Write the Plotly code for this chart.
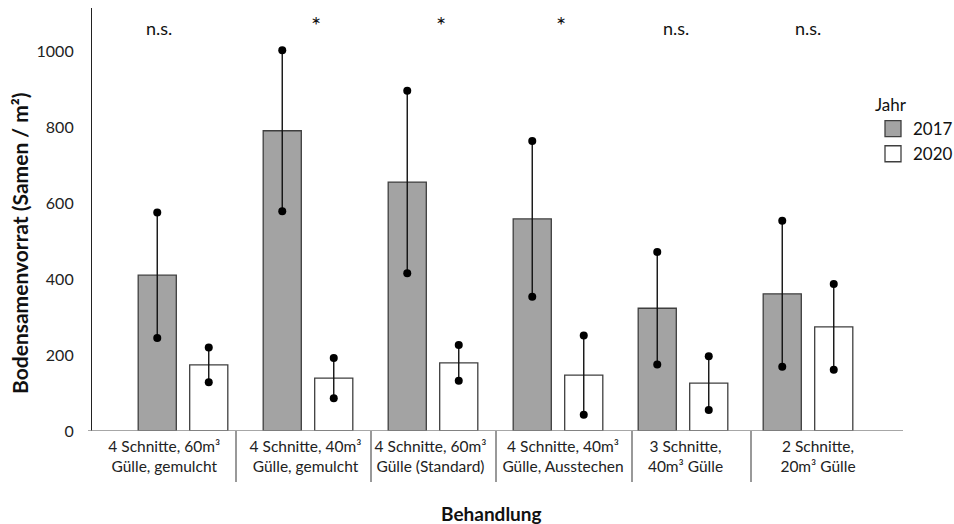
import numpy as np
import plotly.graph_objects as go

# ---- data ----
categories = [
    "4 Schnitte, 60m³<br>Gülle, gemulcht",
    "4 Schnitte, 40m³<br>Gülle, gemulcht",
    "4 Schnitte, 60m³<br>Gülle (Standard)",
    "4 Schnitte, 40m³<br>Gülle, Ausstechen",
    "3 Schnitte,<br>40m³ Gülle",
    "2 Schnitte,<br>20m³ Gülle",
]
years = ["2017", "2020"]
mean_2017 = [410, 790, 655, 558, 323, 361]
se_2017 = [165, 212, 240, 205, 148, 192]
mean_2020 = [174, 139, 179, 147, 126, 274]
se_2020 = [46, 53, 47, 104, 71, 113]
significance = ["n.s.", "*", "*", "*", "n.s.", "n.s."]
y_ticks = [0, 200, 400, 600, 800, 1000]

# ---- layout / style ----
FONT = "Lato, Calibri, Carlito, sans-serif"
GRAY = "#a3a3a3"
EDGE = "#3f3f3f"
offset = 0.206
bar_w = 0.305
label_shift = [-0.15, -0.02, -0.02, 0.04, 0.02, 0.08]
sig_shift = [-0.19, 0.06, 0.06, 0.02, -0.06, 0.0]
divider_x = [0.424, 1.504, 2.504, 3.592, 4.544]

# figure is a little wider than the 954px window so the legend's trailing
# padding may fall outside the visible page (body overflow hidden)
W, H = 970, 524
L, R, T, B = 92, 67, 8, 93
PW, PH = W - L - R, H - T - B
BOT = H - B  # pixel row of the x axis


def px_x(px):
    return (px - L) / PW


def px_y(py):
    return (BOT - py) / PH


idx = np.arange(len(categories))
x17 = idx - offset
x20 = idx + offset
m17, s17 = np.array(mean_2017), np.array(se_2017)
m20, s20 = np.array(mean_2020), np.array(se_2020)

fig = go.Figure()

for xs, m, s, fill, name in [(x17, m17, s17, GRAY, years[0]), (x20, m20, s20, "white", years[1])]:
    fig.add_trace(go.Bar(
        x=xs, y=m, width=bar_w, name=name, showlegend=False,
        marker=dict(color=fill, line=dict(color=EDGE, width=1.3)),
        error_y=dict(type="data", array=s, visible=True, thickness=1.4, width=0, color="#111111"),
        hoverinfo="y",
    ))

# end-point dots of the error lines
for xs, m, s in [(x17, m17, s17), (x20, m20, s20)]:
    fig.add_trace(go.Scatter(
        x=np.concatenate([xs, xs]), y=np.concatenate([m + s, m - s]),
        mode="markers", marker=dict(color="black", size=8), showlegend=False, hoverinfo="y",
    ))

# legend entries
for fill, name in [(GRAY, years[0]), ("white", years[1])]:
    fig.add_trace(go.Scatter(
        x=[None], y=[None], mode="markers", name=name,
        marker=dict(symbol="square", size=16, color=fill, line=dict(color=EDGE, width=1.3)),
    ))

annotations = []
for i, txt in enumerate(significance):
    star = txt == "*"
    annotations.append(dict(x=i + sig_shift[i], y=px_y(24 if star else 28), xref="x", yref="paper",
                            xanchor="center", yanchor="middle", text=txt, showarrow=False,
                            font=dict(family=FONT, size=24 if star else 18, color="#111")))
annotations.append(dict(x=px_x(19), y=px_y(243), xref="paper", yref="paper",
                        xanchor="center", yanchor="middle",
                        text="<b>Bodensamenvorrat (Samen / m²)</b>", textangle=-90, showarrow=False,
                        font=dict(family=FONT, size=21, color="#111")))
annotations.append(dict(x=px_x(491), y=px_y(513), xref="paper", yref="paper",
                        xanchor="center", yanchor="middle",
                        text="<b>Behandlung</b>", showarrow=False,
                        font=dict(family=FONT, size=19, color="#111")))

shapes = [dict(type="line", xref="x", yref="paper", x0=d, x1=d, y0=0, y1=px_y(482),
               line=dict(color="#555555", width=1.2)) for d in divider_x]
shapes.append(dict(type="line", xref="paper", yref="y", x0=px_x(88), x1=1, y0=0, y1=0,
                   line=dict(color="#8a8a8a", width=1.5)))

fig.update_layout(
    width=W, height=H,
    margin=dict(l=L, r=R, t=T, b=B, pad=0),
    paper_bgcolor="white", plot_bgcolor="white",
    font=dict(family=FONT, size=16, color="#111"),
    xaxis=dict(range=[-0.728, 5.76], tickvals=idx + np.array(label_shift), ticktext=categories,
               showgrid=False, zeroline=False, showline=False, ticks="",
               tickfont=dict(family=FONT, size=15.5, color="#222"), ticklabelstandoff=4),
    yaxis=dict(range=[0, 1113], tickvals=y_ticks, showgrid=False, zeroline=False,
               showline=True, linecolor="#222", linewidth=1.2, ticks="",
               tickfont=dict(family=FONT, size=16, color="#222"), ticklabelstandoff=14),
    legend=dict(x=px_x(873), y=px_y(89), xanchor="left", yanchor="top",
                title=dict(text="Jahr", font=dict(family=FONT, size=17)),
                font=dict(family=FONT, size=17), itemsizing="trace", bgcolor="rgba(0,0,0,0)"),
    annotations=annotations, shapes=shapes,
)

fig.write_html(
    "out.html",
    config={"displayModeBar": False},
    post_script="document.body.style.margin='0';document.body.style.overflow='hidden';",
)
